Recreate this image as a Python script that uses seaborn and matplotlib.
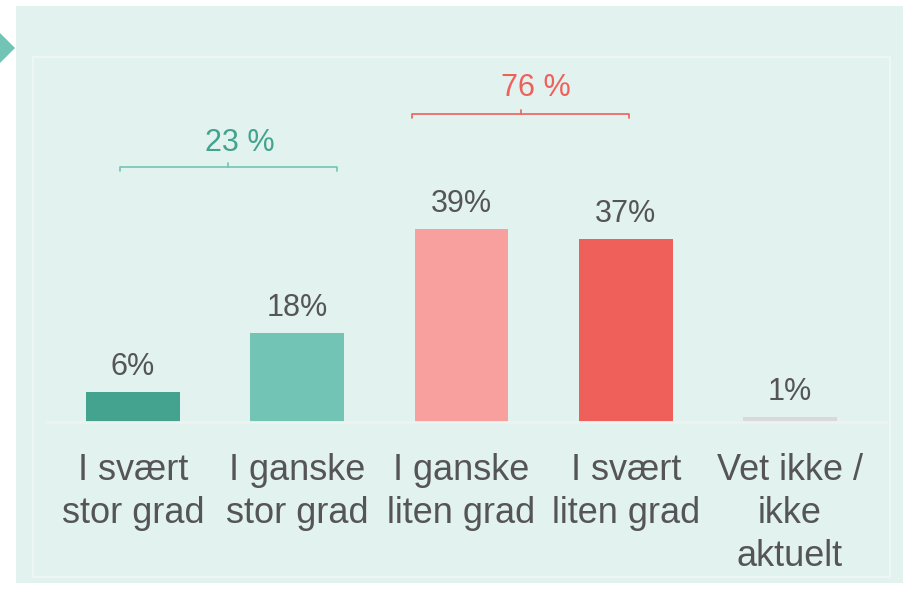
import pandas as pd
import matplotlib.pyplot as plt
import matplotlib.patches as mpatches
import seaborn as sns

#data
categories = ["I svært\nstor grad", "I ganske\nstor grad", "I ganske\nliten grad",
              "I svært\nliten grad", "Vet ikke /\nikke\naktuelt"]
values = [6, 18, 39, 37, 1]
colors = ["#43a38f", "#72c5b5", "#f7a09e", "#f0605b", "#d9d9d9"]
group_labels = ["23 %", "76 %"]
group_colors = ["#72c5b5", "#f0605b"]
group_text_colors = ["#43a38f", "#f0605b"]

df = pd.DataFrame({"kategori": categories, "andel": values})

sns.set_style("white")
plt.rcParams["font.family"] = ["Liberation Sans", "DejaVu Sans"]
text_col = "#555555"

fig = plt.figure(figsize=(9.09, 5.91), dpi=100, facecolor="white")
W, H = 909, 591

#mint panel + inner border + arrow
fig.patches.append(mpatches.Rectangle((16 / W, 1 - 583 / H), 887 / W, 577 / H,
                                      transform=fig.transFigure, facecolor="#e2f2ee",
                                      edgecolor="none", zorder=0))
fig.patches.append(mpatches.Rectangle((33 / W, 1 - 577 / H), 857 / W, 520 / H,
                                      transform=fig.transFigure, facecolor="none",
                                      edgecolor="#eef6f3", linewidth=1.5, zorder=1))
fig.patches.append(mpatches.Polygon([(-15 / W, 1 - 48 / H), (0, 1 - 33 / H),
                                     (15 / W, 1 - 48 / H), (0, 1 - 63 / H)],
                                    closed=True, transform=fig.transFigure,
                                    facecolor="#72c5b5", edgecolor="none", zorder=1))

ax = fig.add_axes([46 / W, (591 - 422) / H, 840 / W, 362 / H])
ax.set_zorder(5)
ax.set_facecolor("none")
sns.barplot(data=df, x="kategori", y="andel", hue="kategori", palette=colors,
            order=categories, hue_order=categories, width=0.572, legend=False,
            saturation=1, linewidth=0, ax=ax)

ax.set_xlim(-0.53, 4.585)
ax.set_ylim(0, 73.1)

for i, v in enumerate(values):
    ax.text(i, v + 3.4, f"{v}%", ha="center", va="baseline", fontsize=22, color=text_col)

#brackets over the groups
brackets = [(-0.08, 1.24, 51.5, 0.65, 54.7), (1.70, 3.02, 62.2, 2.45, 65.9)]
for (x0, x1, y, tx, ty), lab, c, tc in zip(brackets, group_labels, group_colors, group_text_colors):
    mid = (x0 + x1) / 2
    ax.plot([x0, x0, x1, x1], [y - 0.9, y, y, y - 0.9], color=c, lw=1.2, clip_on=False)
    ax.plot([mid, mid], [y, y + 0.9], color=c, lw=1.2, clip_on=False)
    ax.text(tx, ty, lab, ha="center", va="baseline", fontsize=22, color=tc)

ax.set_xlabel("")
ax.set_ylabel("")
ax.set_yticks([])
ax.tick_params(axis="x", length=0, pad=22, labelsize=26, labelcolor=text_col)
for lab in ax.get_xticklabels():
    lab.set_linespacing(1.3)
for s in ["top", "left", "right"]:
    ax.spines[s].set_visible(False)
ax.spines["bottom"].set_color("#eef2f1")
ax.spines["bottom"].set_linewidth(2)

plt.savefig("out.png", dpi=100, facecolor="white")
